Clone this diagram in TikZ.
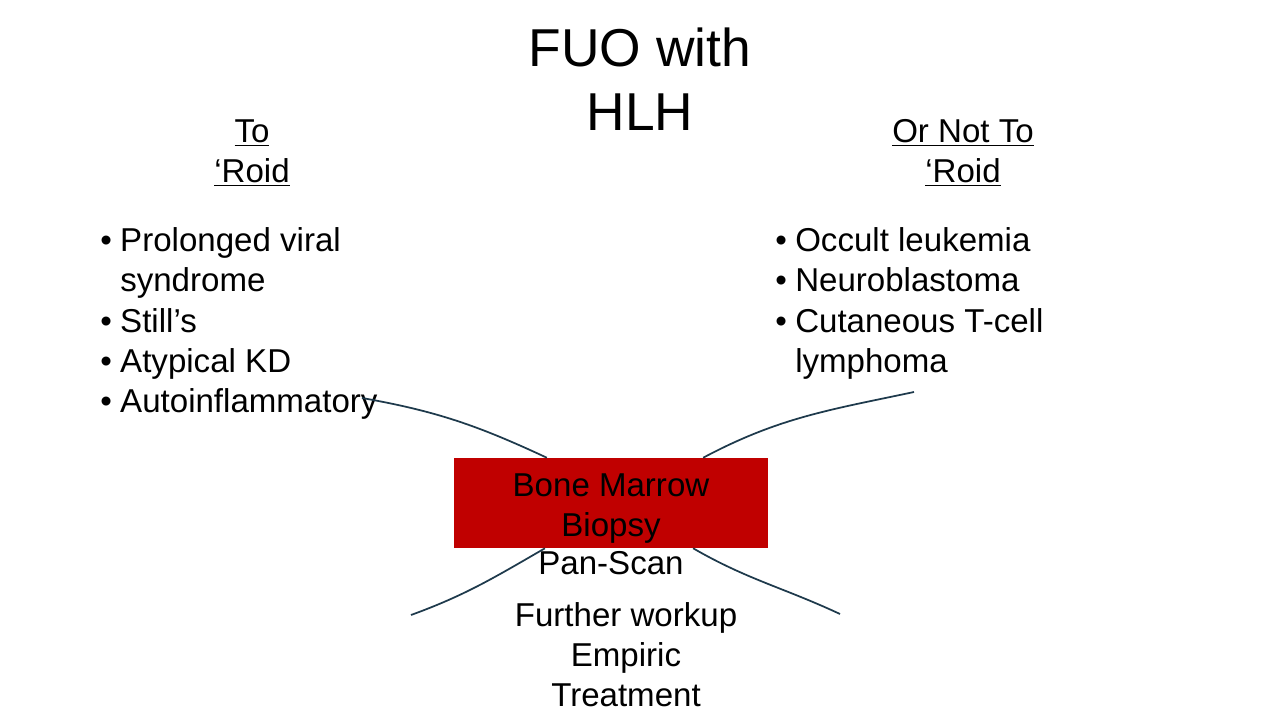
\documentclass[tikz,border=0pt]{standalone}
\usepackage{fontspec}
\setmainfont{Liberation Sans}
\usetikzlibrary{positioning}
\usetikzlibrary{calc}
\definecolor{marrowred}{HTML}{C00000}
\definecolor{linkcol}{HTML}{1E3A4C}
\tikzset{txt/.style={inner sep=0pt, font=\fontsize{24.8}{30}\selectfont, align=center}}
\tikzset{title/.style={inner sep=0pt, font=\fontsize{40}{48}\selectfont, align=center}}
\tikzset{redbox/.style={txt, fill=marrowred, minimum width=235.5pt, minimum height=67.5pt}}
\tikzset{link/.style={draw=linkcol, line width=1.3pt}}
\newcommand{\bul}{\makebox[15pt][l]{\textbullet}}

\begin{document}
\begin{tikzpicture}[x=0.75pt,y=-0.75pt]
\fill[white] (0,0) rectangle (1280,720);
\useasboundingbox (0,0) rectangle (1280,720);

% base of a multi-line node is its last line
\node[title, anchor=base] (fuo) at (640,131) {FUO with\\HLH};

\node[txt, anchor=base] (toRoid) at (252,183) {\underline{To}\\\underline{‘Roid}};
\node[txt, anchor=base] (notRoid) at (963,183) {\underline{Or Not To}\\\underline{‘Roid}};

\node[txt, anchor=base west, align=left] (toList) at (100,252) {%
\begin{tabular}[t]{@{}l@{}l@{}}
\bul & Prolonged viral\\
     & syndrome\\
\bul & Still’s\\
\bul & Atypical KD\\
\bul & Autoinflammatory
\end{tabular}};
\node[txt, anchor=base west, align=left] (notList) at (775,252) {%
\begin{tabular}[t]{@{}l@{}l@{}}
\bul & Occult leukemia\\
\bul & Neuroblastoma\\
\bul & Cutaneous T-cell\\
     & lymphoma
\end{tabular}};

\node[redbox] (bmb) at (611,503) {\rule{0pt}{25pt}Bone Marrow\\Biopsy};
\node[txt, anchor=base] (pan) at (611,574) {Pan-Scan};
\node[txt, anchor=base] (further) at (626,706) {Further workup\\Empiric\\Treatment};

% free ends of the connectors
\coordinate (tlEnd) at (362,398);
\coordinate (trEnd) at (914,392);
\coordinate (blEnd) at (411,615);
\coordinate (brEnd) at (840,614);

\draw[link] (tlEnd) to[out=-10,in=155] ($(bmb.north west)!0.296!(bmb.north east)$);
\draw[link] (trEnd) to[out=-168,in=28] ($(bmb.north west)!0.793!(bmb.north east)$);
\draw[link] ($(bmb.south west)!0.290!(bmb.south east)$) to[out=-150,in=20] (blEnd);
\draw[link] ($(bmb.south west)!0.761!(bmb.south east)$) to[out=-30,in=155] (brEnd);
\end{tikzpicture}
\end{document}
